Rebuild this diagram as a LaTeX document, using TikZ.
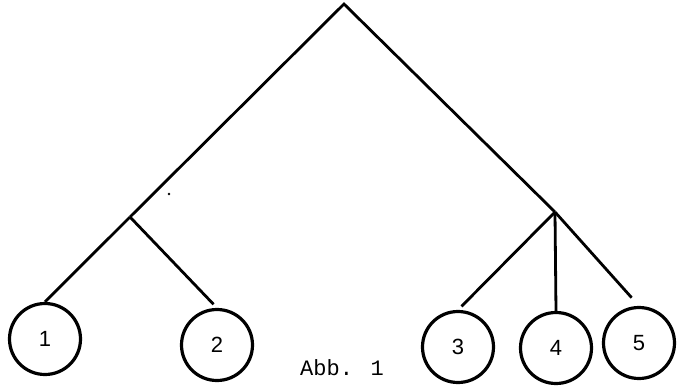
\documentclass[tikz,border=0pt]{standalone}
\usepackage{fontspec}
\newfontfamily\leaffont{Liberation Sans}
\newfontfamily\capfont{Liberation Mono}

\tikzset{
  leaf/.style={draw,circle,line width=3.2pt,minimum size=71pt,inner sep=0pt,
    font=\leaffont\fontsize{22}{22}\selectfont},
  branch/.style={line width=2.8pt,line join=miter},
}

\begin{document}
\begin{tikzpicture}[x=1pt,y=-1pt]
\useasboundingbox (0,0) rectangle (681,386);

\coordinate (Root) at (344,4);
\coordinate (site12) at (130,217);
\coordinate (site345) at (555,212);

\foreach \n/\x/\y in {1/45/339, 2/217/345, 3/458/347, 4/556/348, 5/639/343}
	{
	\node[leaf] (leaf\n) at (\x,\y) {\n};
	}

\draw[branch] (site12) -- (Root) -- (site345);

\draw[branch] (site12) -- (leaf1.north);
\draw[branch,shorten >=5pt] (site12) -- (leaf2.north);
\draw[branch,shorten >=5pt] (site345) -- (leaf3.north);
\draw[branch] (site345) -- (leaf4.north);
\draw[branch,shorten >=11pt] (site345) -- (leaf5.north);

\fill (169,194) circle (1.3pt);

\node[anchor=base west,inner sep=0pt,font=\capfont\fontsize{22}{22}\selectfont] (caption) at (300,375) {Abb. 1};
\end{tikzpicture}
\end{document}
